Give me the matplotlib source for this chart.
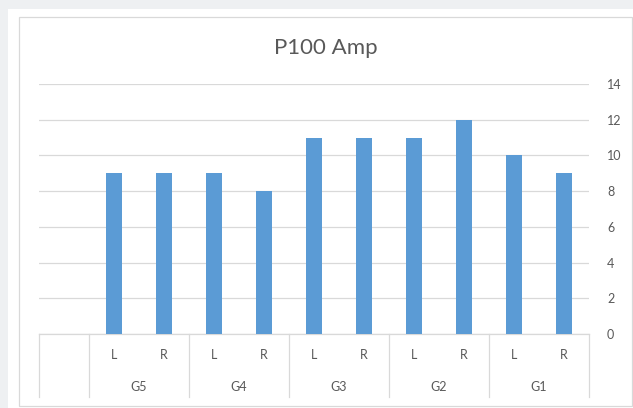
import matplotlib
matplotlib.use("Agg")
import matplotlib.pyplot as plt
import matplotlib.transforms as mtransforms
from matplotlib.patches import Rectangle

# channel readings per group, first slot left empty
sides = ["", "L", "R", "L", "R", "L", "R", "L", "R", "L", "R"]
groups = ["G5", "G4", "G3", "G2", "G1"]
amps = [0, 9, 9, 9, 8, 11, 11, 11, 12, 10, 9]
yticks = [0, 2, 4, 6, 8, 10, 12, 14]

plt.rcParams["font.family"] = ["Lato", "DejaVu Sans"]
text_col = "#595959"
grid_col = "#d9d9d9"
bar_col = "#5b9bd5"

W, H = 633, 408
fig = plt.figure(figsize=(W / 100, H / 100), dpi=100)
fig.patch.set_facecolor("#eef0f2")

# white chart sheet with thin frame
fig.patches.append(Rectangle((8 / W, 0), 1, 1 - 9 / H, transform=fig.transFigure,
                             facecolor="white", edgecolor="none", zorder=-3))
fig.patches.append(Rectangle((19 / W, 2 / H), (632 - 19) / W, (406 - 17) / H,
                             transform=fig.transFigure, facecolor="none",
                             edgecolor=grid_col, linewidth=0.9, zorder=-2))

x0, x1, ytop, ybot = 39, 589, 84, 334
ax = fig.add_axes([x0 / W, (H - ybot) / H, (x1 - x0) / W, (ybot - ytop) / H])
ax.set_facecolor("none")
ax.set_zorder(1)

xs = list(range(len(sides)))
ax.bar(xs[1:], amps[1:], width=0.32, color=bar_col, zorder=3)

ax.set_xlim(-0.5, len(sides) - 0.5)
ax.set_ylim(0, 14)
ax.set_yticks(yticks)
ax.yaxis.tick_right()
ax.tick_params(axis="y", length=0, pad=13, labelsize=9, labelcolor=text_col)
ax.set_xticks([])
ax.grid(axis="y", color=grid_col, linewidth=0.9, zorder=0)
for sp in ax.spines.values():
    sp.set_visible(False)

# category table under the axis
trans = mtransforms.blended_transform_factory(ax.transData, ax.transAxes)
low = -(397 - ybot) / (ybot - ytop)
for b in [-0.5, 0.5, 2.5, 4.5, 6.5, 8.5, 10.5]:
    ax.plot([b, b], [0, low], transform=trans, color=grid_col,
            linewidth=0.9, clip_on=False)
ax.plot([-0.5, 10.5], [0, 0], transform=trans, color=grid_col,
        linewidth=0.9, clip_on=False)

y_side = -(355 - ybot) / (ybot - ytop)
y_grp = -(387 - ybot) / (ybot - ytop)
for x, s in zip(xs, sides):
    ax.text(x, y_side, s, transform=trans, ha="center", va="center",
            fontsize=9, color=text_col)
for i, g in enumerate(groups):
    ax.text(1.5 + 2 * i, y_grp, g, transform=trans, ha="center",
            va="center", fontsize=9, color=text_col)

fig.text(326 / W, 1 - 48 / H, "P100 Amp", ha="center", va="center",
         fontsize=16, color=text_col)

fig.savefig("out.png", dpi=100, facecolor=fig.get_facecolor())
